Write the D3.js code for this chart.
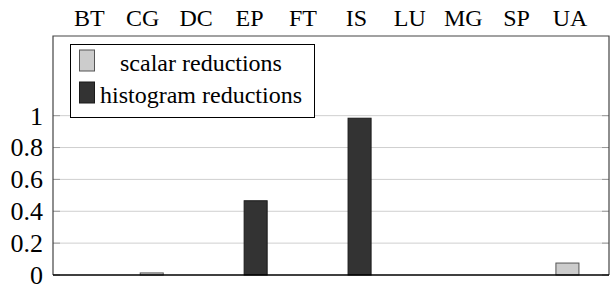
<!DOCTYPE html>
<html>
<head>
<meta charset="utf-8">
<script src="https://cdn.jsdelivr.net/npm/d3@7"></script>
<style>
  body { margin: 0; background: #fff; }
  svg text { font-family: "Liberation Serif", "Times New Roman", serif; fill: #000; }
</style>
</head>
<body>
<svg id="chart"></svg>
<script>
const categories = ["BT", "CG", "DC", "EP", "FT", "IS", "LU", "MG", "SP", "UA"];
const scalarValues = [0, 0.013, 0, 0, 0, 0, 0, 0, 0, 0.075];
const histogramValues = [0, 0, 0, 0.466, 0, 0.984, 0, 0, 0, 0];
const yTicks = [0, 0.2, 0.4, 0.6, 0.8, 1];
const seriesNames = ["scalar reductions", "histogram reductions"];

const width = 610;
const height = 289;
const margin = {top: 36, right: 1, bottom: 14, left: 53};

const svg = d3.select("#chart")
              .attr("width", width)
              .attr("height", height);

const x = d3.scaleLinear()
            .domain([-0.9, 9.8])
            .range([margin.left, width - margin.right]);

const y = d3.scaleLinear()
            .domain([0, 1.5])
            .range([height - margin.bottom, margin.top]);

// top labels are spread a little wider than the bars
const labelX = d3.scalePoint()
                 .domain(categories)
                 .range([x(-0.2), x(9.05)]);

const barWidth = x(0.443) - x(0);

// grid lines
svg.append("g")
   .selectAll("line")
   .data(yTicks.filter(d => d > 0))
   .enter()
   .append("line")
   .attr("x1", x.range()[0])
   .attr("x2", x.range()[1])
   .attr("y1", d => y(d))
   .attr("y2", d => y(d))
   .style("stroke", "#cfcfcf")
   .style("stroke-width", 1);

// inward ticks on both sides
const tickG = svg.append("g");
tickG.selectAll(".tl")
     .data(yTicks)
     .enter()
     .append("line")
     .attr("x1", x.range()[0])
     .attr("x2", x.range()[0] + 7)
     .attr("y1", d => y(d))
     .attr("y2", d => y(d))
     .style("stroke", "#999")
     .style("stroke-width", 1);
tickG.selectAll(".tr")
     .data(yTicks)
     .enter()
     .append("line")
     .attr("x1", x.range()[1] - 7)
     .attr("x2", x.range()[1])
     .attr("y1", d => y(d))
     .attr("y2", d => y(d))
     .style("stroke", "#999")
     .style("stroke-width", 1);

// bars
const bars = svg.append("g");
const seriesList = [
  {values: scalarValues, fill: "#cccccc", stroke: "#555"},
  {values: histogramValues, fill: "#333333", stroke: "#1a1a1a"}
];
seriesList.forEach(function(s) {
  bars.append("g")
      .selectAll("rect")
      .data(s.values.map((v, i) => ({i: i, v: v})).filter(d => d.v > 0))
      .enter()
      .append("rect")
      .attr("x", d => x(d.i) - barWidth / 2)
      .attr("y", d => y(d.v))
      .attr("width", barWidth)
      .attr("height", d => y(0) - y(d.v))
      .style("fill", s.fill)
      .style("stroke", s.stroke)
      .style("stroke-width", 1);
});

// axis frame
svg.append("path")
   .attr("d", "M" + x.range()[0] + "," + y(0) + "V" + y.range()[1] + "H" + x.range()[1] + "V" + y(0))
   .style("fill", "none")
   .style("stroke", "#444")
   .style("stroke-width", 1.2);
svg.append("line")
   .attr("x1", x.range()[0])
   .attr("x2", x.range()[1])
   .attr("y1", y(0))
   .attr("y2", y(0))
   .style("stroke", "#000")
   .style("stroke-width", 1.6);

// y tick labels
svg.append("g")
   .selectAll("text")
   .data(yTicks)
   .enter()
   .append("text")
   .attr("x", margin.left - 10)
   .attr("y", d => y(d))
   .attr("dy", "0.34em")
   .attr("text-anchor", "end")
   .style("font-size", "26px")
   .text(d => String(d));

// category labels on top
svg.append("g")
   .selectAll("text")
   .data(categories)
   .enter()
   .append("text")
   .attr("x", d => labelX(d))
   .attr("y", 26)
   .attr("text-anchor", "middle")
   .style("font-size", "24px")
   .text(d => d);

// legend
const legend = svg.append("g");
legend.append("rect")
      .attr("x", 70.5)
      .attr("y", 44.5)
      .attr("width", 244)
      .attr("height", 73)
      .style("fill", "#fff")
      .style("stroke", "#000")
      .style("stroke-width", 1);
const legendRows = legend.selectAll(".row")
      .data(seriesNames)
      .enter()
      .append("g")
      .attr("transform", (d, i) => "translate(0," + (i * 32) + ")");
legendRows.append("rect")
          .attr("x", 79.5)
          .attr("y", 50)
          .attr("width", 15)
          .attr("height", 21)
          .style("fill", (d, i) => seriesList[i].fill)
          .style("stroke", (d, i) => seriesList[i].stroke)
          .style("stroke-width", 1);
legendRows.append("text")
          .attr("x", 201)
          .attr("y", 71)
          .attr("text-anchor", "middle")
          .style("font-size", "24px")
          .text(d => d);
</script>
</body>
</html>
